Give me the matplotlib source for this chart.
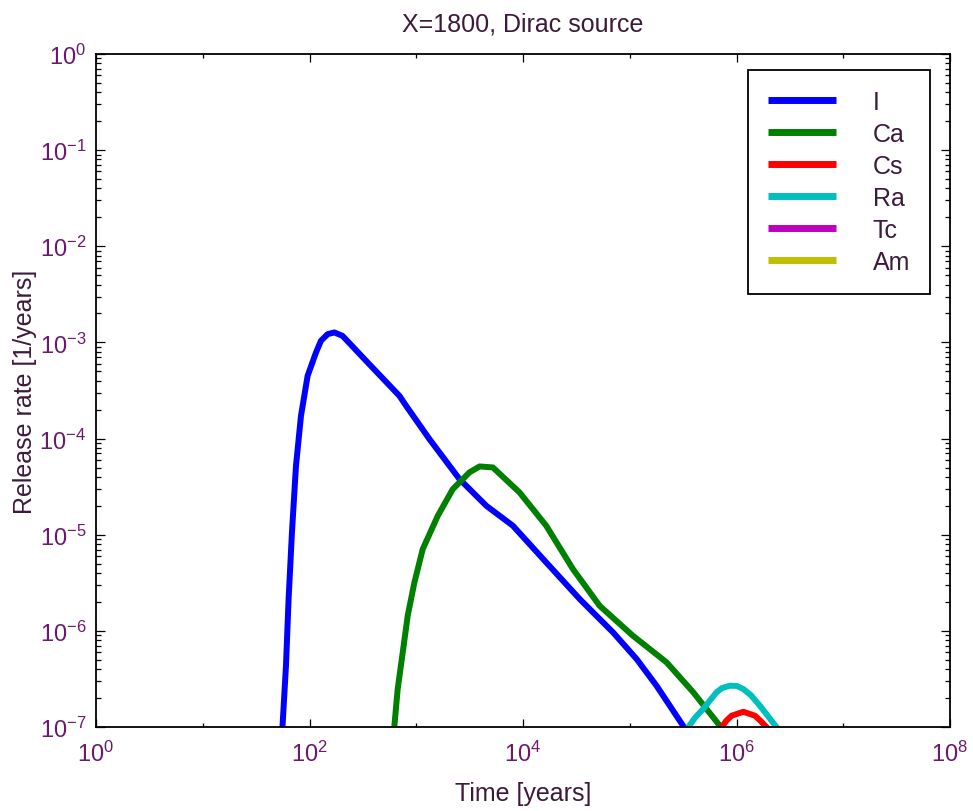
import matplotlib
matplotlib.use("Agg")
import matplotlib.pyplot as plt
import matplotlib.ticker as ticker

plt.rcParams['font.family'] = ['Liberation Sans', 'DejaVu Sans']
plt.rcParams['mathtext.default'] = 'regular'

# release rate curves per nuclide (time in years, rate in 1/years)
I_t = [54.4, 55.9, 60.2, 63.7, 68.5, 74.7, 83.2, 96.0, 115, 128, 148, 171, 204, 339, 696, 804,
       1330, 2540, 4530, 8040, 1.65e4, 3.40e4, 6.97e4, 1.16e5, 1.78e5, 3.16e5, 3.50e5]
I_r = [7.5e-8, 1.03e-7, 4.34e-7, 2.14e-6, 1.06e-5, 5.2e-5, 1.72e-4, 4.49e-4, 7.85e-4, 1.04e-3, 1.22e-3,
       1.27e-3, 1.17e-3, 6.43e-4, 2.78e-4, 2.19e-4, 9.86e-5, 3.79e-5, 2.0e-5, 1.24e-5, 5.15e-6,
       2.14e-6, 9.65e-7, 5.09e-7, 2.69e-7, 1.03e-7, 8.3e-8]

Ca_t = [611, 624, 670, 747, 832, 961, 1150, 1590, 2200, 3150, 3920, 5220, 9290, 1.65e4, 2.94e4,
        5.23e4, 1.07e5, 2.21e5, 3.93e5, 6.98e5, 7.62e5]
Ca_r = [7.5e-8, 1.03e-7, 2.48e-7, 5.97e-7, 1.44e-6, 3.19e-6, 7.08e-6, 1.57e-5, 2.98e-5, 4.45e-5,
        5.13e-5, 5.01e-5, 2.75e-5, 1.24e-5, 4.38e-6, 1.82e-6, 8.9e-7, 4.71e-7, 2.30e-7, 1.03e-7, 8.3e-8]

Cs_t = [6.84e5, 7.24e5, 7.96e5, 8.99e5, 1.16e6, 1.49e6, 1.69e6, 1.92e6, 2.01e6]
Cs_r = [7.9e-8, 9.9e-8, 1.15e-7, 1.31e-7, 1.44e-7, 1.31e-7, 1.15e-7, 9.9e-8, 7.9e-8]

Ra_t = [3.35e5, 3.52e5, 4.07e5, 4.87e5, 6.51e5, 7.3e5, 8.67e5, 1.01e6, 1.16e6, 1.36e6, 1.66e6,
        1.97e6, 2.38e6, 2.55e6]
Ra_r = [7.9e-8, 9.9e-8, 1.24e-7, 1.54e-7, 2.30e-7, 2.54e-7, 2.69e-7, 2.67e-7, 2.48e-7, 2.15e-7,
        1.66e-7, 1.30e-7, 9.9e-8, 7.9e-8]

# Tc and Am stay below the plotted range
Tc_t, Tc_r = [], []
Am_t, Am_r = [], []

series = [
    ('I', I_t, I_r, '#0000ff'),
    ('Ca', Ca_t, Ca_r, '#008000'),
    ('Cs', Cs_t, Cs_r, '#ff0000'),
    ('Ra', Ra_t, Ra_r, '#00bfbf'),
    ('Tc', Tc_t, Tc_r, '#bf00bf'),
    ('Am', Am_t, Am_r, '#bfbf00'),
]

tick_col = '#6a1a6a'
text_col = '#3c1a3c'

fig = plt.figure(figsize=(9.73, 8.12), dpi=100)
ax = fig.add_axes([96 / 973, 84 / 812, 854 / 973, 673 / 812])

for name, t, r, col in series:
    ax.plot(t, r, color=col, linewidth=4.3, label=name,
            solid_capstyle='butt', solid_joinstyle='round')

ax.set_xscale('log')
ax.set_yscale('log')
ax.set_xlim(1e0, 1e8)
ax.set_ylim(1e-7, 1e0)

ax.xaxis.set_major_locator(ticker.LogLocator(base=100.0, numticks=10))
ax.xaxis.set_minor_locator(ticker.LogLocator(base=100.0, subs=(10.0,), numticks=10))
ax.xaxis.set_major_formatter(ticker.LogFormatterSciNotation(base=10))
ax.xaxis.set_minor_formatter(ticker.NullFormatter())
ax.yaxis.set_major_locator(ticker.LogLocator(base=10.0, numticks=20))
ax.yaxis.set_minor_locator(ticker.LogLocator(base=10.0, subs=range(2, 10), numticks=20))
ax.yaxis.set_minor_formatter(ticker.NullFormatter())

ax.tick_params(which='both', direction='in', top=True, right=True, width=0.9, color='black',
               labelcolor=tick_col, labelsize=17)
ax.tick_params(axis='x', which='major', length=6, pad=10)
ax.tick_params(axis='x', which='minor', length=3)
ax.tick_params(axis='y', which='major', length=6.5, pad=7)
ax.tick_params(axis='y', which='minor', length=3.6)

for sp in ax.spines.values():
    sp.set_linewidth(1.3)
    sp.set_color('black')

ax.set_title('X=1800, Dirac source', fontsize=18, color=text_col, pad=17)
ax.set_xlabel('Time [years]', fontsize=18, color=text_col, labelpad=11)
ax.set_ylabel('Release rate [1/years]', fontsize=18, color=text_col, labelpad=2)

leg = ax.legend(loc='upper right', bbox_to_anchor=(930 / 973, 1 - 71 / 812),
                bbox_transform=fig.transFigure, borderaxespad=0, fontsize=18,
                handlelength=2.72, handletextpad=1.46, labelspacing=0.32, borderpad=0.8,
                fancybox=False, framealpha=1, edgecolor='black')
leg.get_frame().set_linewidth(1.3)
for txt in leg.get_texts():
    txt.set_color(text_col)
for ln in leg.get_lines():
    ln.set_linewidth(5)

fig.savefig('out.png', dpi=100, facecolor='white')
